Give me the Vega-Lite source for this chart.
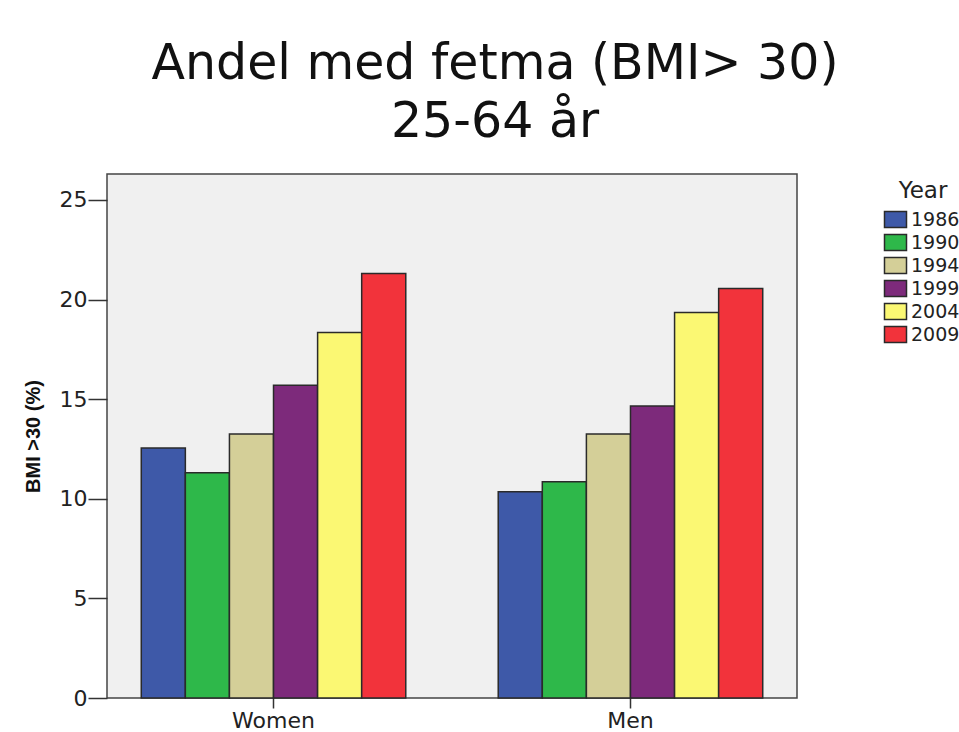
{"$schema":"https://vega.github.io/schema/vega-lite/v6.json","autosize":{"type":"none"},"width":690,"height":524,"padding":{"left":107,"top":174,"right":162,"bottom":34},"background":"white","view":{"fill":"#f0f0f0","stroke":"#444444","strokeWidth":1.5},"title":{"text":["Andel med fetma (BMI> 30)","25-64 år"],"font":"DejaVu Sans","fontSize":49,"fontWeight":"normal","color":"#111111","anchor":"middle","offset":27,"dx":43,"lineHeight":58},"data":{"values":[{"g":"Women","y":"1986","v":12.55},{"g":"Women","y":"1990","v":11.3},{"g":"Women","y":"1994","v":13.25},{"g":"Women","y":"1999","v":15.7},{"g":"Women","y":"2004","v":18.35},{"g":"Women","y":"2009","v":21.3},{"g":"Men","y":"1986","v":10.35},{"g":"Men","y":"1990","v":10.85},{"g":"Men","y":"1994","v":13.25},{"g":"Men","y":"1999","v":14.65},{"g":"Men","y":"2004","v":19.35},{"g":"Men","y":"2009","v":20.55}]},"mark":{"type":"bar","stroke":"#2a2a2a","strokeWidth":1.5},"encoding":{"x":{"field":"g","type":"nominal","sort":["Women","Men"],"scale":{"paddingInner":0.259,"paddingOuter":0.096},"axis":{"title":null,"labelAngle":0,"labelFont":"DejaVu Sans","labelFontSize":22,"labelColor":"#222222","tickColor":"#333333","tickSize":10,"tickWidth":1.5,"domain":false,"labelPadding":2}},"xOffset":{"field":"y","type":"nominal"},"y":{"field":"v","type":"quantitative","scale":{"domain":[0,26.3],"nice":false},"axis":{"title":"BMI >30 (%)","titleFont":"Liberation Sans","titleFontSize":20,"titleFontWeight":"bold","titleColor":"#111111","titlePadding":16,"values":[0,5,10,15,20,25],"labelFont":"DejaVu Sans","labelFontSize":22,"labelColor":"#222222","tickColor":"#333333","tickSize":19,"tickWidth":1.5,"grid":false,"domain":false,"labelPadding":1}},"color":{"field":"y","type":"nominal","scale":{"domain":["1986","1990","1994","1999","2004","2009"],"range":["#3e59a8","#2eb84a","#d4cf98","#7d2a7b","#fbf873","#f2333b"]},"legend":{"title":"Year","orient":"none","legendX":779,"legendY":6,"titleFont":"DejaVu Sans","titleFontSize":23,"titleFontWeight":"normal","titleAnchor":"middle","titlePadding":7,"labelFont":"DejaVu Sans","labelFontSize":19,"labelOffset":6,"symbolType":"M-1.556,-1.13H1.556V1.13H-1.556Z","symbolSize":200,"symbolStrokeWidth":1.5,"rowPadding":0,"titleColor":"#222222","labelColor":"#222222","symbolStrokeColor":"#2a2a2a"}}}}
